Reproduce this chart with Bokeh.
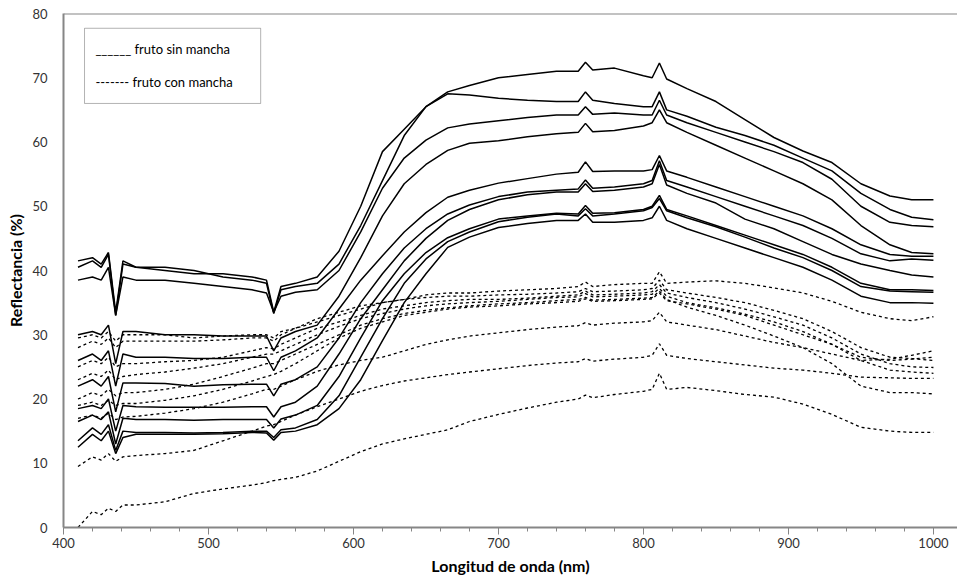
from bokeh.plotting import figure
from bokeh.models import Range1d, FixedTicker, Span, BoxAnnotation, Label, Title
from bokeh.embed import file_html
from bokeh.resources import INLINE

# wavelength grid (nm)
W = [410, 420, 426, 431, 436, 441, 450, 470, 490, 510, 530, 540, 545, 550, 560, 575, 590, 605, 620, 635,
     650, 665, 680, 700, 720, 740, 755, 760, 765, 780, 800, 806, 811, 816, 830, 850, 870, 890, 910, 930,
     950, 970, 985, 1000]

# fruto sin mancha (solid)
S1 = [40.5, 41.5, 40.5, 42.5, 33.0, 41.0, 40.5, 40.0, 39.5, 39.5, 39.0, 38.5, 33.5, 37.5, 38.0, 39.0, 43.0, 50.0, 58.5, 62.0,
      65.5, 67.8, 68.8, 70.0, 70.5, 71.0, 71.0, 72.4, 71.2, 71.5, 70.3, 70.0, 72.3, 69.8, 68.3, 66.3, 63.5, 60.7, 58.6, 56.8,
      53.5, 51.6, 51.0, 51.0]
S2 = [41.5, 42.0, 41.0, 42.8, 33.5, 41.5, 40.5, 40.5, 40.0, 39.0, 38.5, 38.0, 33.3, 37.0, 37.5, 38.0, 41.0, 47.0, 54.0, 61.0,
      65.5, 67.5, 67.3, 66.8, 66.5, 66.3, 66.3, 67.8, 66.5, 66.0, 65.5, 65.5, 67.8, 65.0, 64.0, 62.3, 61.0, 59.5, 57.5, 55.5,
      52.0, 49.5, 48.3, 47.9]
S3 = [38.5, 39.0, 38.5, 40.5, 33.0, 39.0, 38.5, 38.5, 38.0, 37.5, 37.0, 36.5, 33.5, 36.0, 36.6, 37.0, 40.0, 46.0, 52.8, 57.5,
      60.3, 62.2, 62.8, 63.3, 63.8, 64.2, 64.2, 65.5, 64.3, 64.5, 64.2, 64.2, 66.5, 64.2, 63.0, 61.5, 60.0, 58.5, 56.8, 54.2,
      50.0, 47.5, 47.0, 46.8]
S4 = [30.0, 30.5, 30.0, 31.5, 25.5, 30.5, 30.5, 30.0, 30.0, 29.8, 29.8, 29.8, 27.5, 29.5, 30.5, 31.5, 36.0, 42.0, 48.5, 53.5,
      56.5, 58.7, 59.8, 60.2, 60.8, 61.3, 61.5, 62.9, 61.6, 61.8, 62.5, 63.0, 65.0, 63.0, 61.5, 59.5, 57.5, 55.5, 53.5, 51.0,
      47.0, 44.0, 42.8, 42.6]
S5 = [26.0, 27.0, 26.0, 27.5, 22.0, 27.0, 26.5, 26.5, 26.3, 26.3, 26.5, 26.5, 24.4, 26.5, 27.5, 29.5, 34.0, 38.5, 42.3, 46.0,
      49.0, 51.4, 52.5, 53.6, 54.3, 55.0, 55.3, 56.9, 55.4, 55.5, 55.5, 55.7, 57.9, 55.5, 54.5, 53.0, 51.5, 50.0, 48.5, 46.5,
      44.0, 42.5, 42.2, 42.2]
S6 = [22.0, 23.0, 22.0, 23.5, 18.0, 22.5, 22.5, 22.4, 22.0, 22.2, 22.3, 22.3, 20.5, 22.3, 23.0, 25.0, 29.5, 35.0, 39.5, 43.5,
      46.5, 48.8, 50.2, 51.5, 52.2, 52.5, 52.7, 54.1, 52.8, 53.0, 53.5, 54.0, 57.1, 54.0, 53.0, 51.5, 50.0, 48.5, 47.0, 45.0,
      42.6, 41.5, 41.8, 41.6]
S7 = [18.5, 19.0, 18.5, 20.0, 15.0, 19.0, 18.8, 18.7, 18.7, 18.7, 18.8, 18.8, 17.2, 18.8, 19.5, 22.0, 27.0, 32.5, 37.0, 41.5,
      45.0, 47.8, 49.5, 51.0, 51.8, 52.2, 52.2, 53.5, 52.3, 52.5, 53.0, 53.5, 56.5, 53.3, 52.0, 50.5, 48.0, 46.5, 44.5, 42.5,
      41.0, 40.0, 39.3, 39.0]
S8 = [16.5, 17.5, 16.8, 18.0, 13.0, 17.0, 16.8, 16.8, 16.7, 16.8, 16.8, 16.8, 15.5, 16.9, 17.5, 19.0, 23.5, 29.5, 35.3, 39.5,
      42.8, 45.1, 46.5, 48.0, 48.5, 48.9, 48.8, 50.1, 48.9, 49.0, 49.5, 50.0, 51.7, 49.5, 48.5, 47.0, 45.5, 44.0, 42.5, 40.5,
      38.0, 37.0, 37.0, 36.9]
S9 = [13.5, 15.5, 14.5, 16.0, 12.0, 15.0, 14.8, 14.8, 14.7, 14.8, 15.0, 15.0, 14.0, 15.2, 15.5, 16.8, 20.5, 26.5, 32.5, 38.0,
      41.8, 44.5, 46.0, 47.6, 48.3, 48.8, 48.5, 49.6, 48.5, 48.8, 49.3, 49.8, 51.2, 49.3, 48.2, 46.8, 45.2, 43.5, 42.0, 40.0,
      37.5, 36.8, 36.7, 36.6]
S10 = [12.5, 14.5, 13.5, 15.0, 11.5, 14.0, 14.5, 14.5, 14.5, 14.6, 14.8, 14.7, 13.6, 14.8, 15.0, 16.0, 18.5, 23.0, 29.1, 35.0,
       39.5, 43.6, 45.2, 46.7, 47.3, 47.8, 47.8, 48.8, 47.5, 47.5, 47.8, 48.2, 50.0, 47.8, 46.5, 45.0, 43.5, 42.0, 40.5, 38.5,
       36.0, 35.0, 35.0, 34.9]

# fruto con mancha (dashed)
D1 = [29.5, 30.0, 29.5, 30.5, 29.0, 30.0, 30.0, 30.0, 29.5, 29.8, 30.0, 30.0, 29.5, 30.5, 31.0, 32.0, 33.0, 34.0, 35.0, 35.5,
      36.2, 36.5, 36.5, 36.8, 37.0, 37.2, 37.5, 38.2, 37.5, 37.8, 38.0, 38.0, 39.8, 38.0, 38.2, 38.4, 38.0, 37.3, 36.5, 35.2,
      33.5, 32.5, 32.2, 32.8]
D2 = [28.0, 29.0, 28.5, 29.5, 28.0, 29.0, 29.0, 29.0, 29.0, 29.2, 29.5, 29.5, 29.0, 30.0, 31.0, 32.5, 33.5, 34.5, 35.0, 35.5,
      35.8, 36.0, 36.0, 36.2, 36.3, 36.5, 36.7, 37.2, 36.7, 36.8, 37.0, 37.2, 38.5, 37.0, 36.5, 35.8, 35.0, 33.8, 32.5, 30.5,
      28.0, 26.5, 26.3, 26.0]
D3 = [25.0, 26.0, 25.5, 26.5, 25.0, 25.5, 25.5, 25.8, 26.0, 26.5, 27.5, 28.0, 27.8, 28.5, 29.5, 31.0, 32.0, 33.0, 34.0, 34.5,
      35.0, 35.3, 35.5, 35.5, 35.7, 36.0, 36.2, 36.8, 36.2, 36.3, 36.5, 36.7, 37.8, 36.5, 35.8, 35.0, 34.0, 32.8, 31.5, 29.5,
      27.0, 25.5, 25.0, 24.9]
D4 = [23.0, 24.0, 23.5, 24.5, 23.0, 23.5, 23.8, 24.2, 24.8, 25.5, 26.5, 27.0, 27.0, 27.5, 28.5, 30.0, 31.3, 32.5, 33.3, 34.0,
      34.5, 34.8, 35.0, 35.2, 35.5, 35.8, 35.9, 36.4, 35.9, 36.0, 36.2, 36.3, 37.2, 36.0, 35.0, 34.2, 33.2, 32.0, 30.5, 28.5,
      26.0, 24.5, 24.2, 24.0]
D5 = [20.0, 21.0, 20.5, 21.5, 20.5, 21.0, 21.0, 21.5, 22.3, 23.5, 24.8, 25.5, 25.5, 26.0, 27.0, 28.5, 30.0, 31.5, 32.5, 33.3,
      33.8, 34.2, 34.5, 34.8, 35.0, 35.3, 35.5, 35.8, 35.4, 35.5, 35.7, 35.8, 36.8, 35.5, 34.3, 33.0, 31.5, 29.8, 28.0, 25.5,
      22.0, 21.0, 21.0, 20.8]
D6 = [19.0, 19.5, 19.0, 19.8, 19.0, 19.3, 19.3, 19.8, 20.5, 21.5, 22.8, 23.5, 23.8, 24.3, 25.5, 27.5, 29.5, 31.0, 32.0, 33.0,
      33.5, 34.0, 34.3, 34.5, 34.8, 35.0, 35.2, 35.6, 35.2, 35.3, 35.5, 35.6, 36.5, 35.3, 34.8, 34.0, 33.0, 31.5, 30.0, 28.5,
      26.5, 26.0, 26.2, 26.5]
D7 = [17.0, 17.5, 17.0, 17.8, 16.8, 17.2, 17.3, 17.8, 18.5, 19.5, 20.8, 21.5, 21.5, 22.0, 23.0, 24.3, 25.3, 26.0, 26.5, 27.5,
      28.5, 29.2, 29.8, 30.3, 30.8, 31.2, 31.4, 31.9, 31.5, 31.8, 32.0, 32.2, 33.5, 32.0, 31.5, 30.8, 29.8, 28.8, 28.0, 27.0,
      26.0, 26.2, 26.8, 27.5]
D8 = [9.5, 11.0, 10.5, 11.5, 10.3, 11.0, 11.2, 11.5, 12.0, 13.5, 15.0, 15.8, 16.0, 16.5, 17.5, 18.8, 20.0, 21.2, 22.1, 22.8,
      23.3, 23.8, 24.2, 24.7, 25.2, 25.6, 25.8, 26.3, 25.9, 26.2, 26.5, 26.8, 28.6, 26.8, 26.3, 25.8, 25.3, 24.8, 24.5, 24.0,
      23.4, 23.3, 23.2, 23.2]
D9 = [0.0, 2.5, 2.0, 3.0, 2.5, 3.5, 3.5, 4.0, 5.3, 6.0, 6.6, 7.0, 7.3, 7.5, 7.8, 8.8, 10.3, 11.8, 13.0, 13.8,
      14.5, 15.2, 16.5, 17.6, 18.6, 19.5, 20.0, 20.6, 20.2, 20.7, 21.2, 21.5, 24.0, 21.5, 21.8, 21.3, 20.7, 20.3, 19.2, 17.6,
      15.6, 15.0, 14.8, 14.8]

SOLID = [S1, S2, S3, S4, S5, S6, S7, S8, S9, S10]
DASHED = [D1, D2, D3, D4, D5, D6, D7, D8, D9]

X_TICKS = [400, 500, 600, 700, 800, 900, 1000]
Y_TICKS = [0, 10, 20, 30, 40, 50, 60, 70, 80]
LEGEND_TEXT = ["______ fruto sin mancha", "------- fruto con mancha"]

FONT = "Lato"
AXIS_GREY = "#868686"

p = figure(width=957, height=585, output_backend="svg", toolbar_location=None,
           x_range=Range1d(400, 1016.6), y_range=Range1d(0, 80),
           min_border_left=63, min_border_right=0, min_border_top=13, min_border_bottom=58)
p.outline_line_color = None
p.xgrid.visible = False
p.ygrid.visible = False
p.background_fill_color = "white"
p.border_fill_color = "white"

for ys in DASHED:
    p.line(W, ys, line_color="black", line_width=1.3, line_dash="3 3")
for ys in SOLID:
    p.line(W, ys, line_color="black", line_width=1.5)

xa = p.xaxis[0]
xa.ticker = FixedTicker(ticks=X_TICKS, minor_ticks=list(range(400, 1020, 20)))
xa.axis_line_color = AXIS_GREY
xa.axis_line_width = 2
xa.major_tick_line_color = AXIS_GREY
xa.major_tick_out = 7
xa.major_tick_in = 0
xa.minor_tick_line_color = AXIS_GREY
xa.minor_tick_out = 4
xa.minor_tick_in = 0
xa.major_label_text_font = FONT
xa.major_label_text_font_size = "13px"
xa.major_label_text_color = "#333333"
xa.major_label_standoff = 3

ya = p.yaxis[0]
ya.ticker = FixedTicker(ticks=Y_TICKS)
ya.axis_line_color = AXIS_GREY
ya.axis_line_width = 2
ya.major_tick_line_color = None
ya.minor_tick_line_color = None
ya.major_label_text_font = FONT
ya.major_label_text_font_size = "13px"
ya.major_label_text_color = "#333333"
ya.major_label_standoff = 10
ya.axis_label = "Reflectancia (%)"
ya.axis_label_text_font = FONT
ya.axis_label_text_font_style = "bold"
ya.axis_label_text_font_size = "16px"
ya.axis_label_text_color = "black"
ya.axis_label_standoff = 4

p.add_layout(Title(text="Longitud de onda (nm)", align="center", offset=-10,
                   text_font=FONT, text_font_style="bold", text_font_size="16px",
                   text_color="black", standoff=6), "below")

p.add_layout(Span(location=80, dimension="width", line_color=AXIS_GREY, line_width=2))

# legend text box
p.add_layout(BoxAnnotation(left=414.5, right=536, bottom=66.0, top=77.7,
                           fill_color="white", fill_alpha=1, line_color="black", line_width=1))
p.add_layout(Label(x=422, y=74.4, text=LEGEND_TEXT[0], text_font=FONT, text_font_size="13px",
                   text_baseline="middle", text_color="black"))
p.add_layout(Label(x=422, y=69.3, text=LEGEND_TEXT[1], text_font=FONT, text_font_size="13px",
                   text_baseline="middle", text_color="black"))

open("out.html", "w").write(file_html(p, INLINE))
